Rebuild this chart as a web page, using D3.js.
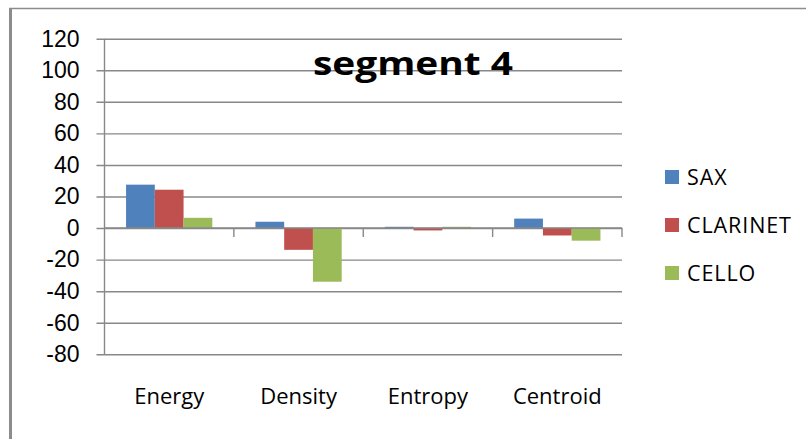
<!DOCTYPE html>
<html>
<head>
<meta charset="utf-8">
<script src="https://cdn.jsdelivr.net/npm/d3@7"></script>
<style>
  body { margin: 0; background: #fff; }
  svg { display: block; font-family: "Open Sans", "Liberation Sans", sans-serif; }
</style>
</head>
<body>
<div id="chart"></div>
<script>
// chart values
let categories = ['Energy', 'Density', 'Entropy', 'Centroid'];
let seriesNames = ['SAX', 'CLARINET', 'CELLO'];
let sax = [27.5, 4, 0.8, 6];
let clarinet = [24.3, -13.8, -1.5, -4.7];
let cello = [6.5, -34, 0.8, -8];
let yTicks = [-80, -60, -40, -20, 0, 20, 40, 60, 80, 100, 120];
let seriesColors = ['#4F81BD', '#C0504D', '#9BBB59'];

let seriesValues = [sax, clarinet, cello];

let width = 806;
let height = 439;

let svg = d3.select('#chart')
.append('svg')
.attr('width', width)
.attr('height', height);

// outer frame of the chart area (left and top edges only are visible)
svg.append('line')
.attr('x1', 10.5).attr('x2', 10.5)
.attr('y1', 8).attr('y2', height)
.attr('stroke', '#8c8c8c')
.attr('stroke-width', 3);
svg.append('line')
.attr('x1', 9).attr('x2', width)
.attr('y1', 8.5).attr('y2', 8.5)
.attr('stroke', '#8c8c8c')
.attr('stroke-width', 1.5);

let plotLeft = 104.5;
let plotRight = 622;

let y = d3.scaleLinear()
.domain([-80, 120])
.range([354.3, 38.7]);

// gap width 150% as in the original office chart
let x0 = d3.scaleBand()
.domain(categories)
.range([plotLeft, plotRight])
.paddingInner(1 / 3)
.paddingOuter(1 / 6);

let x1 = d3.scaleBand()
.domain(seriesNames)
.range([0, x0.bandwidth()]);

// gridlines + y labels (plain hyphen for negatives, like the original)
let yAxis = d3.axisLeft(y)
.tickValues(yTicks)
.tickSize(0)
.tickPadding(17)
.tickFormat(function(d) { return String(d); });

let yAxisG = svg.append('g')
.attr('transform', 'translate(' + (plotLeft - 8) + ',0)')
.call(yAxis);
yAxisG.select('.domain').remove();
yAxisG.selectAll('.tick line')
.attr('x2', (plotRight - plotLeft) + 8)
.attr('stroke', '#888')
.attr('stroke-width', 1.4);
yAxisG.selectAll('.tick text')
.style('font-size', '23px')
.style('fill', '#000');

// vertical axis line
svg.append('line')
.attr('x1', plotLeft).attr('x2', plotLeft)
.attr('y1', y(120)).attr('y2', y(-80))
.attr('stroke', '#888')
.attr('stroke-width', 1.4);

// bars
let groups = svg.selectAll('.group')
.data(categories)
.enter()
.append('g')
.attr('transform', function(d) { return 'translate(' + x0(d) + ',0)'; });

groups.selectAll('rect')
.data(function(d, i) {
  return seriesNames.map(function(s, j) {
    return {series: s, value: seriesValues[j][i], color: seriesColors[j]};
  });
})
.enter()
.append('rect')
.attr('x', function(d) { return x1(d.series); })
.attr('width', x1.bandwidth())
.attr('y', function(d) { return y(Math.max(0, d.value)); })
.attr('height', function(d) { return Math.abs(y(d.value) - y(0)); })
.attr('fill', function(d) { return d.color; });

// category axis on the zero line
let xAxisLine = svg.append('g');
xAxisLine.append('line')
.attr('x1', plotLeft).attr('x2', plotRight)
.attr('y1', y(0)).attr('y2', y(0))
.attr('stroke', '#888')
.attr('stroke-width', 1.4);
let step = x0.step();
xAxisLine.selectAll('.xtick')
.data(categories)
.enter()
.append('line')
.attr('x1', function(d, i) { return plotLeft + step * (i + 1); })
.attr('x2', function(d, i) { return plotLeft + step * (i + 1); })
.attr('y1', y(0))
.attr('y2', y(0) + 9)
.attr('stroke', '#888')
.attr('stroke-width', 1.4);

// category labels below the plot
svg.selectAll('.catlabel')
.data(categories)
.enter()
.append('text')
.attr('x', function(d) { return x0(d) + x0.bandwidth() / 2; })
.attr('y', 404)
.attr('text-anchor', 'middle')
.style('font-size', '22px')
.text(function(d) { return d; });

// title (the original is stretched sideways)
svg.append('text')
.attr('x', 313)
.attr('y', 75)
.attr('textLength', 200)
.attr('lengthAdjust', 'spacingAndGlyphs')
.style('font-size', '32px')
.style('font-weight', 'bold')
.text('segment 4');

// legend
let legend = svg.selectAll('.legend')
.data(seriesNames)
.enter()
.append('g')
.attr('transform', function(d, i) { return 'translate(665,' + (170 + i * 48) + ')'; });
legend.append('rect')
.attr('width', 14)
.attr('height', 14)
.attr('fill', function(d, i) { return seriesColors[i]; });
legend.append('text')
.attr('x', 22)
.attr('y', 15)
.style('font-size', '21.5px')
.style('letter-spacing', '0.9px')
.text(function(d) { return d; });
</script>
</body>
</html>
